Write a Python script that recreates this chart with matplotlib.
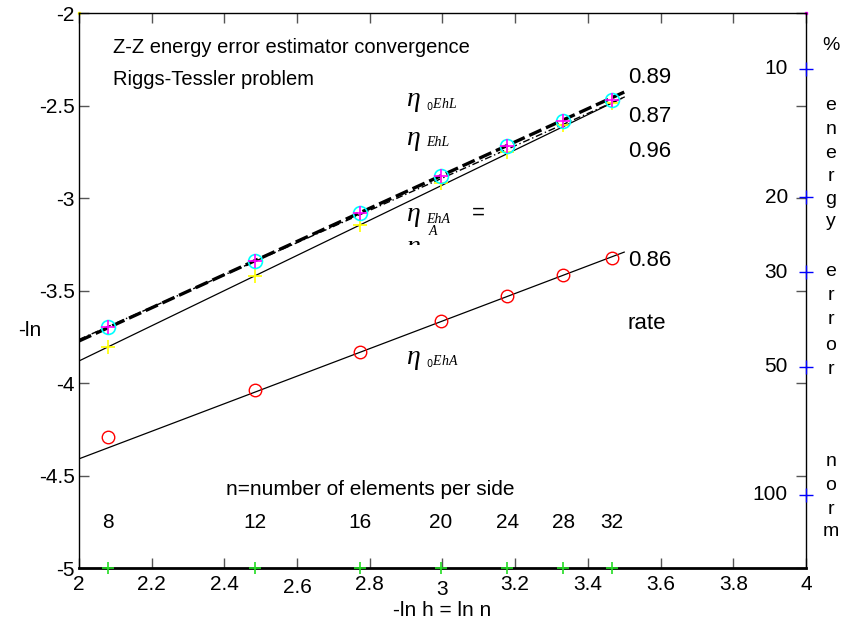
import numpy as np
import matplotlib
matplotlib.use('Agg')
import matplotlib.pyplot as plt
from matplotlib.transforms import Bbox

plt.rcParams['font.family'] = ['Liberation Sans', 'DejaVu Sans']

# number of elements per side and x = ln n
n_elem = [8, 12, 16, 20, 24, 28, 32]
x_ln = np.log(n_elem)

# -ln(error) values
eta_top = [-3.697, -3.341, -3.081, -2.881, -2.719, -2.584, -2.470]    # cyan o / magenta +
eta_yel = [-3.805, -3.422, -3.146, -2.919, -2.751, -2.605, -2.486]    # yellow +
eta_red = [-4.292, -4.038, -3.832, -3.665, -3.530, -3.416, -3.324]    # red o

# fitted lines (slope, intercept)
fit_dash = (0.897, -5.567)
fit_dashdot = (0.873, -5.511)
fit_thin = (0.951, -5.783)
fit_red = (0.745, -5.900)

rates = ['0.89', '0.87', '0.96', '0.86']
rate_y = [-2.35, -2.56, -2.75, -3.34]

# right axis: energy error norm in %
pct_ticks = [10, 20, 30, 50, 100]

fig = plt.figure(figsize=(8.5, 6.25), dpi=100)
ax = fig.add_axes([0.0929, 0.0912, 0.8553, 0.888])
ax.set_xlim(2, 4)
ax.set_ylim(-5, -2)

xf = np.array([2.0, 3.5])
ax.plot(xf, fit_dash[0] * xf + fit_dash[1], color='black', lw=2.4, ls=(0, (4, 1.5)))
ax.plot(xf, fit_dashdot[0] * xf + fit_dashdot[1], color='black', lw=1.0, ls=(0, (5, 2, 1, 2)))
ax.plot(xf, fit_thin[0] * xf + fit_thin[1], color='black', lw=0.9)
ax.plot(xf, fit_red[0] * xf + fit_red[1], color='black', lw=0.9)

ax.plot(x_ln, eta_yel, '+', color='yellow', ms=10, mew=1.2, ls='none')
ax.plot(x_ln, eta_top, 'o', mfc='none', mec='cyan', ms=10, mew=1.2, ls='none')
ax.plot(x_ln, eta_top, '+', color='magenta', ms=10, mew=1.2, ls='none')
ax.plot(x_ln, eta_red, 'o', mfc='none', mec='red', ms=9, mew=1.0, ls='none')

# n markers on bottom axis
ax.plot(x_ln, [-5] * len(x_ln), '+', color='#22dd22', ms=8, mew=1.2, ls='none', clip_on=False, zorder=5)
for xv, n in zip(x_ln, n_elem):
    ax.text(xv, -4.805, str(n), ha='center', va='bottom', fontsize=15)
ax.text(2.80, -4.625, 'n=number of elements per side', ha='center', va='bottom', fontsize=15)

# corner dots
ax.plot([2], [-2], 's', color='yellow', ms=2, clip_on=False)
ax.plot([4], [-2], 's', color='magenta', ms=2, clip_on=False)

# titles
ax.text(2.093, -2.185, 'Z-Z energy error estimator convergence', fontsize=14.5, va='center')
ax.text(2.093, -2.36, 'Riggs-Tessler problem', fontsize=14.5, va='center')

# eta labels
eta_lab = [(-2.47, '$_0$EhL'), (-2.676, 'EhL'), (-3.09, 'EhA'), (-3.86, '$_0$EhA')]
for yv, sub in eta_lab:
    ax.text(2.9, yv, 'η', fontsize=20, family='Liberation Serif', style='italic', va='center')
    ax.text(2.955, yv - 0.025, sub, fontsize=10, family='Liberation Serif', style='italic', va='center')
ax.text(3.08, -3.08, '=', fontsize=16, va='center')
ax.text(2.963, -3.18, 'A', fontsize=10, family='Liberation Serif', style='italic', va='center')
t = ax.text(2.9, -3.27, 'η', fontsize=20, family='Liberation Serif', style='italic', va='center')
t.set_clip_box(Bbox.from_extents(0, 625 - 245, 850, 625))
t.set_clip_on(True)

for r, yv in zip(rates, rate_y):
    ax.text(3.51, yv, r, fontsize=16, va='center')
ax.text(3.51, -3.68, 'rate', fontsize=16, va='center')

# ticks
ax.set_xticks(np.arange(2, 4.01, 0.2))
ax.set_xticklabels(['2', '2.2', '2.4', '2.6', '2.8', '3', '3.2', '3.4', '3.6', '3.8', '4'])
ax.set_yticks([-5, -4.5, -4, -3.5, -3, -2.5, -2])
ax.set_yticklabels(['-5', '-4.5', '-4', '-3.5', '-3', '-2.5', '-2'])
ax.tick_params(axis='both', direction='in', length=7, width=1, color='#555555',
               labelsize=15, top=True, right=True)
ax.tick_params(axis='x', pad=5)
ax.tick_params(axis='y', pad=3)
for lab in ax.get_xticklabels():
    if lab.get_text() == '2.6':
        lab.set_y(-0.006)
    elif lab.get_text() == '3':
        lab.set_y(-0.010)
ax.spines['bottom'].set_linewidth(2)
for s in ('left', 'top', 'right'):
    ax.spines[s].set_linewidth(1)

ax.set_xlabel('-ln h = ln n', fontsize=15, labelpad=1)
fig.text(0.021, 0.472, '-ln', fontsize=15, va='center')

# right side % ticks
pct_y = -np.log(pct_ticks)
ax.plot([4] * len(pct_y), pct_y, '+', color='blue', ms=10, mew=1, clip_on=False, zorder=5)
for p, yv in zip(pct_ticks, pct_y):
    ax.text(3.95, yv, str(p), fontsize=15, ha='right', va='center')

# vertical right label
letters = ['%', 'e', 'n', 'e', 'r', 'g', 'y', 'e', 'r', 'r', 'o', 'r', 'n', 'o', 'r', 'm']
letter_px = [45, 106, 130, 153, 176, 199, 222, 271, 296, 320, 346, 369, 461, 485, 509, 531]
for ch, py in zip(letters, letter_px):
    fig.text(831 / 850, 1 - py / 625, ch, fontsize=14, ha='center', va='center')

fig.savefig('out.png', dpi=100)
